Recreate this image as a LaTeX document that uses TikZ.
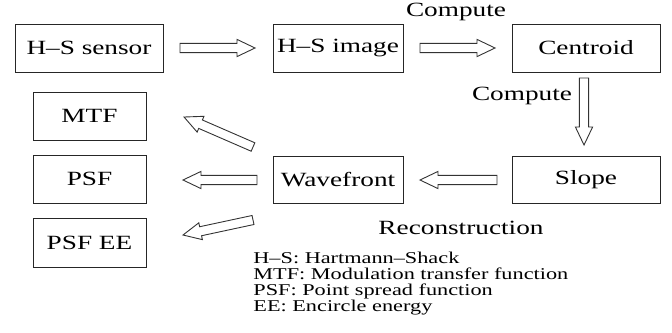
\documentclass[tikz,border=0pt]{standalone}
\usepackage{fontspec}
\setmainfont{Liberation Serif}[FakeStretch=1.35]
\usetikzlibrary{calc}

\tikzset{
  box/.style={draw=black!85, line width=0.5pt, inner sep=0pt,
    font=\fontsize{10.1}{11}\selectfont},
  lbl/.style={inner sep=0pt, anchor=base, font=\fontsize{10.1}{11}\selectfont},
  legend/.style={inner sep=0pt, anchor=base west, align=left,
    font=\fontsize{8.25}{8}\selectfont},
  hollow/.style={draw=black!80, line width=0.45pt, fill=white, line join=miter},
}

% hollow block arrow from #1 (tail) to #2 (tip)
\newcommand\blockarrow[2]{%
  \draw[hollow] let \p1=($(#2)-(#1)$), \n1={atan2(\y1,\x1)},
    \n2={veclen(\x1,\y1)} in
    [shift={(#1)}, rotate=\n1]
    (0pt,-2.3pt) -- ({\n2*1pt-9pt},-2.3pt) -- ({\n2*1pt-9pt},-4.3pt)
    -- ({\n2*1pt},0pt) -- ({\n2*1pt-9pt},4.3pt) -- ({\n2*1pt-9pt},2.3pt)
    -- (0pt,2.3pt) -- cycle;}

\begin{document}
\begin{tikzpicture}[x=0.5pt, y=-0.5pt]
\useasboundingbox (0,0) rectangle (672,332);

% processing chain
\node[box, minimum width=74pt, minimum height=24pt] (sensor) at (89,48) {H--S sensor};
\node[box, minimum width=65pt, minimum height=24pt] (image) at (338,48) {H--S image};
\node[box, minimum width=74pt, minimum height=24pt] (centroid) at (586,48) {Centroid};
\node[box, minimum width=74pt, minimum height=23.5pt] (slope) at (586,180) {Slope};
\node[box, minimum width=65pt, minimum height=23.5pt] (wavefront) at (338,180) {Wavefront};

% outputs
\node[box, minimum width=56.5pt, minimum height=24pt] (mtf) at (89.5,116) {MTF};
\node[box, minimum width=56.5pt, minimum height=24pt] (psf) at (89.5,179) {PSF};
\node[box, minimum width=56.5pt, minimum height=24.5pt] (psfee) at (89.5,242.5) {PSF EE};

% arrow end points
\coordinate (a1t) at (180,48);  \coordinate (a1h) at (255,48);
\coordinate (a2t) at (420,48);  \coordinate (a2h) at (495,48);
\coordinate (a3t) at (584,78);  \coordinate (a3h) at (584,145);
\coordinate (a4t) at (497,180); \coordinate (a4h) at (420,180);
\coordinate (a5t) at (257,180); \coordinate (a5h) at (183,180);
\coordinate (a6t) at (253,147); \coordinate (a6h) at (184,117);
\coordinate (a7t) at (253,220); \coordinate (a7h) at (183,235);

\blockarrow{a1t}{a1h}
\blockarrow{a2t}{a2h}
\blockarrow{a3t}{a3h}
\blockarrow{a4t}{a4h}
\blockarrow{a5t}{a5h}
\blockarrow{a6t}{a6h}
\blockarrow{a7t}{a7h}

% step labels
\node[lbl] (c1) at (456,17) {Compute};
\node[lbl] (c2) at (522,100) {Compute};
\node[lbl] (rec) at (461,234) {Reconstruction};

% abbreviations (anchored on the baseline of the last line)
\node[legend] (key) at (253,311) {H--S: Hartmann--Shack\\MTF: Modulation transfer function\\PSF: Point spread function\\EE: Encircle energy};
\end{tikzpicture}
\end{document}
